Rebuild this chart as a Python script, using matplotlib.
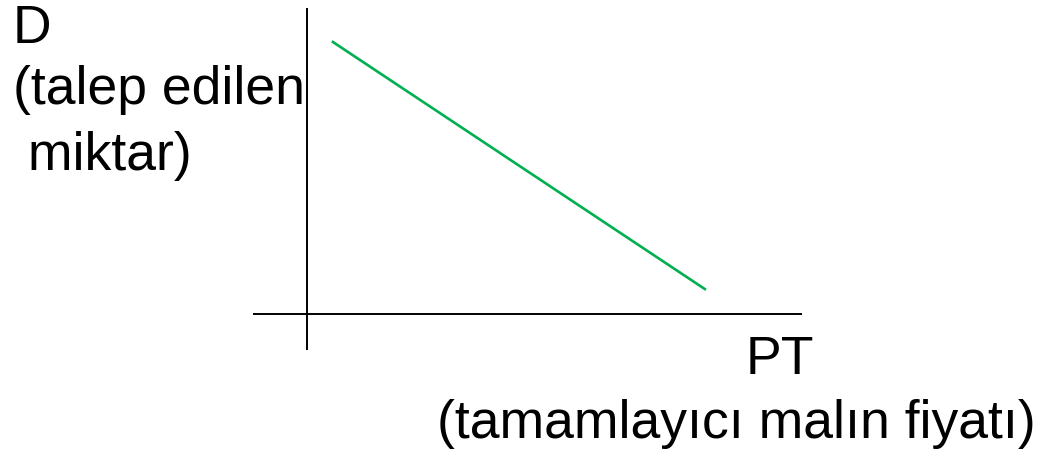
import matplotlib
matplotlib.use('Agg')
import matplotlib.pyplot as plt

# demand for a good vs. price of its complement (downward sloping)
price = [0.48, 7.37]
quantity = [5.04, 0.46]

# extents of the drawn axis lines (data units)
x_axis_span = [-1.0, 9.17]
y_axis_span = [-0.67, 5.67]

y_label_lines = ['D', '(talep edilen', ' miktar)']
x_label_lines = ['PT', '(tamamlayıcı malın fiyatı)']

W, H = 1057, 455
fig = plt.figure(figsize=(W / 100, H / 100), dpi=100)
fig.patch.set_facecolor('white')

# axes box in pixels: left 253, right 802, top 8, bottom 350
ax = fig.add_axes([253 / W, (H - 350) / H, 549 / W, 342 / H])
ax.set_xlim(x_axis_span)
ax.set_ylim(y_axis_span)
ax.axis('off')

ax.plot(x_axis_span, [0, 0], color='black', lw=1.4, clip_on=False, solid_capstyle='butt')
ax.plot([0, 0], y_axis_span, color='black', lw=1.4, clip_on=False, solid_capstyle='butt')
ax.plot(price, quantity, color='#00B050', lw=1.9, clip_on=False)

font = dict(family='Liberation Sans', size=38.5, color='black', va='baseline', ha='left')


def px_text(x, y, s):
    fig.text(x / W, 1 - y / H, s, **font)


# vertical axis label (three lines, top left)
px_text(13, 43, y_label_lines[0])
px_text(13, 104, y_label_lines[1])
px_text(13, 170, y_label_lines[2])

# horizontal axis label
px_text(746, 374, x_label_lines[0])
px_text(437, 438, x_label_lines[1])

fig.savefig('out.png', dpi=100)
